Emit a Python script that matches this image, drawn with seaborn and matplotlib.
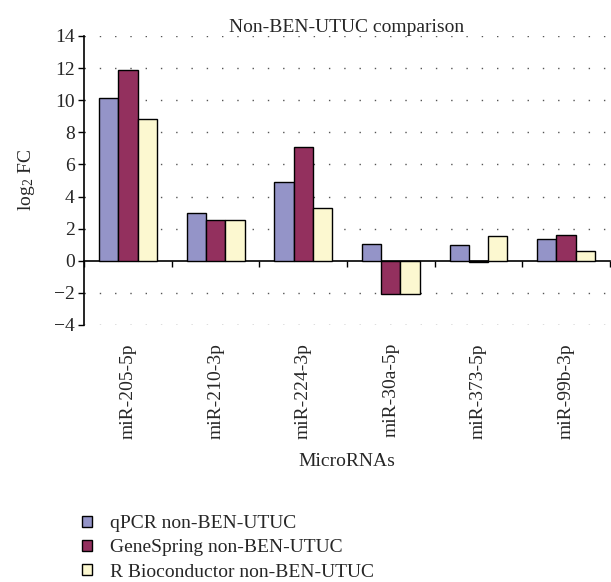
import pandas as pd
import seaborn as sns
import matplotlib.pyplot as plt

# Values (log2 fold change)
micrornas = ["miR-205-5p", "miR-210-3p", "miR-224-3p", "miR-30a-5p", "miR-373-5p", "miR-99b-3p"]
qpcr = [10.14, 2.97, 4.88, 1.06, 1.00, 1.36]
genespring = [11.88, 2.53, 7.06, -2.04, -0.06, 1.61]
r_bioc = [8.81, 2.53, 3.26, -2.06, 1.55, 0.61]
series_names = ["qPCR non-BEN-UTUC", "GeneSpring non-BEN-UTUC", "R Bioconductor non-BEN-UTUC"]
colors = ["#9494C8", "#93305E", "#FCF8D0"]
y_ticks = list(range(-4, 15, 2))

df = pd.DataFrame({"MicroRNA": micrornas * 3,
                   "log2FC": qpcr + genespring + r_bioc,
                   "Method": [n for n in series_names for _ in micrornas]})

sns.set_style("white")
plt.rcParams["font.family"] = ["Liberation Serif", "DejaVu Serif"]
plt.rcParams["mathtext.default"] = "regular"

fig = plt.figure(figsize=(6.11, 5.82), dpi=100)
ax = fig.add_axes([0.138, 0.4416, 0.860, 0.4966])

sns.barplot(data=df, x="MicroRNA", y="log2FC", hue="Method", palette=colors, saturation=1,
            width=0.66, gap=0, edgecolor="black", linewidth=1, ax=ax, legend=True)

ymin, ymax = y_ticks[0], y_ticks[-1]
ax.set_ylim(ymin, ymax)
ax.set_xlim(-0.5, len(micrornas) - 0.5)
ax.set_yticks(y_ticks)
ax.set_yticklabels([str(t).replace("-", "\u2212") for t in y_ticks])

# dotted horizontal grid
for t in y_ticks:
    if t != 0:
        ax.axhline(t, color="#555555", linestyle=(0, (1, 10)), linewidth=1, zorder=0)

# x axis drawn at zero with ticks between categories
sec = ax.secondary_xaxis((0 - ymin) / (ymax - ymin))
sec.set_xticks([i + 0.5 for i in range(-1, len(micrornas))])
sec.set_xticklabels([])
sec.tick_params(axis="x", length=4, width=1, color="black", direction="out")
sec.spines["bottom"].set_linewidth(1.2)
sec.spines["bottom"].set_color("black")

for s in ["top", "right", "bottom"]:
    ax.spines[s].set_visible(False)
ax.spines["left"].set_color("black")
ax.spines["left"].set_linewidth(1.2)
ax.tick_params(axis="y", left=True, length=4, width=1, color="black", labelsize=14, pad=3)
ax.tick_params(axis="x", bottom=False, length=0, labelsize=14, pad=13)
plt.setp(ax.get_xticklabels(), rotation=90)

ax.set_title("Non-BEN-UTUC comparison", fontsize=14, pad=3)
ax.set_xlabel("MicroRNAs", fontsize=14, labelpad=10)
ax.set_ylabel(r"$log_2$ FC", fontsize=14, labelpad=12)

ax.legend(loc="upper left", bbox_to_anchor=(0.135, 0.115), bbox_transform=fig.transFigure,
          frameon=False, fontsize=14, handlelength=0.5, handleheight=0.5,
          handletextpad=0.9, labelspacing=0.38, borderaxespad=0, borderpad=0)

plt.savefig("out.png", dpi=100)
